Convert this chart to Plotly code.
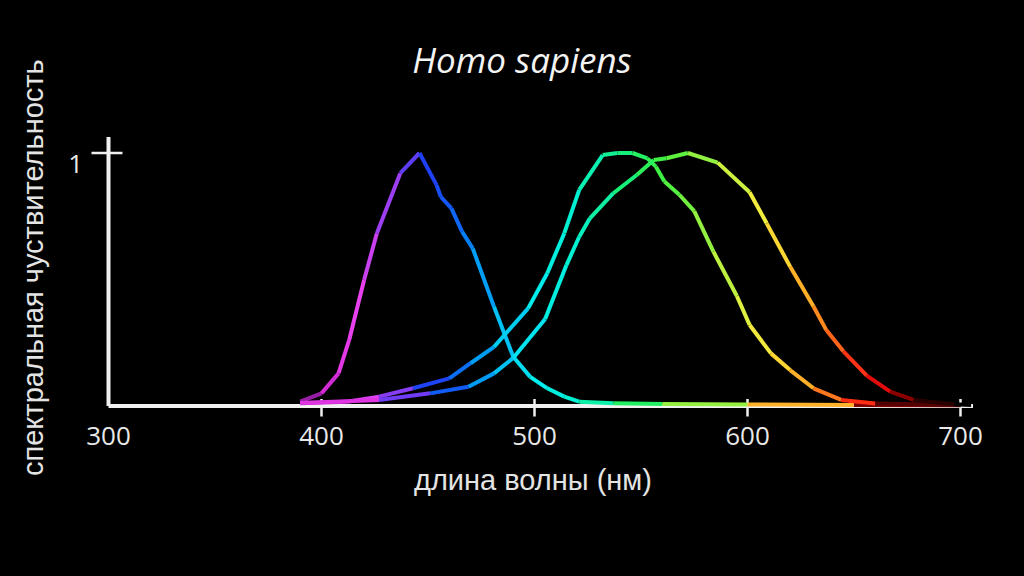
import plotly.graph_objects as go

# ---------------- data ----------------
S_WL = [390, 400, 408, 413, 420, 426, 437, 446, 454, 456, 461, 466, 471, 481, 490, 498, 506, 514, 521, 537, 560, 600, 650, 700]
S_VAL = [0.017, 0.050, 0.129, 0.261, 0.498, 0.683, 0.920, 1.0, 0.874, 0.827, 0.781, 0.689, 0.623, 0.392, 0.195, 0.115, 0.070, 0.037, 0.017, 0.011, 0.008, 0.006, 0.004, 0.003]

M_WL = [390, 412, 427, 443, 460, 470, 481, 497, 506, 514, 521, 532, 539, 546, 553, 557, 561, 568, 575, 584, 595, 601, 611, 620, 631, 644, 660, 700]
M_VAL = [0.011, 0.017, 0.037, 0.070, 0.109, 0.169, 0.234, 0.386, 0.525, 0.683, 0.854, 0.992, 1.0, 1.0, 0.979, 0.946, 0.887, 0.835, 0.770, 0.610, 0.435, 0.320, 0.208, 0.142, 0.070, 0.024, 0.010, 0.004]

L_WL = [390, 427, 451, 469, 481, 490, 505, 515, 521, 526, 537, 548, 556, 562, 572, 586, 601, 609, 620, 631, 637, 645, 656, 667, 678, 697, 705]
L_VAL = [0.012, 0.024, 0.050, 0.076, 0.129, 0.190, 0.344, 0.557, 0.669, 0.742, 0.841, 0.913, 0.972, 0.979, 1.0, 0.962, 0.845, 0.722, 0.551, 0.393, 0.300, 0.216, 0.120, 0.057, 0.024, 0.007, 0.004]

X_TICKS = [300, 400, 500, 600, 700]
X_TICK_TEXT = ["300", "400", "500", "600", "700"]
Y_TICKS = [1]
Y_TICK_TEXT = ["1"]

TITLE = "Homo sapiens"
X_TITLE = "длина волны (нм)"
Y_TITLE = "спектральная чуствительность"

# ---------------- style: spectral colour stops ----------------
COLOR_WL = [388, 398, 415, 428, 440, 450, 462, 472, 482, 492, 502, 518, 532, 545, 560, 575, 590, 603, 618, 633, 646, 658, 670, 685, 700]
COLOR_HEX = ['#3a1a55', '#c020c8', '#f040f0', '#b040f0', '#6a3cf5', '#2040f5', '#1060f5', '#0090f5',
             '#00b4f5', '#00d8f0', '#00eeee', '#00f0d0', '#10f0a0', '#18f070', '#40f040', '#80f040',
             '#c0f040', '#f0f040', '#ffd030', '#ff9020', '#ff4818', '#ff1010', '#a00000', '#300000', '#000000']


def hex2rgb(h):
    h = h.lstrip('#')
    return [int(h[i:i + 2], 16) for i in (0, 2, 4)]


def spectral(w):
    if w <= COLOR_WL[0]:
        return COLOR_HEX[0]
    if w >= COLOR_WL[-1]:
        return COLOR_HEX[-1]
    for i in range(len(COLOR_WL) - 1):
        a, b = COLOR_WL[i], COLOR_WL[i + 1]
        if a <= w <= b:
            t = (w - a) / (b - a)
            c0, c1 = hex2rgb(COLOR_HEX[i]), hex2rgb(COLOR_HEX[i + 1])
            c = [round(c0[k] + (c1[k] - c0[k]) * t) for k in range(3)]
            return 'rgb({},{},{})'.format(*c)
    return COLOR_HEX[-1]


# ---------------- geometry (pixel layout) ----------------
W, H = 1024, 576
PX_PER_NM = 2.13
PX_PER_UNIT = 253.0
X0_PX, Y0_PX = 108.5, 406.0          # pixel position of (300, 0)
PLOT_L, PLOT_R, PLOT_T, PLOT_B = 88, 990, 130, 418

x_range = [300 + (PLOT_L - X0_PX) / PX_PER_NM, 300 + (PLOT_R - X0_PX) / PX_PER_NM]
y_range = [(Y0_PX - PLOT_B) / PX_PER_UNIT, (Y0_PX - PLOT_T) / PX_PER_UNIT]

X_AXIS_END = 300 + (973 - X0_PX) / PX_PER_NM
Y_AXIS_END = (Y0_PX - 137) / PX_PER_UNIT
AXIS_COLOR = '#f0f0f0'

fig = go.Figure()

# axes drawn as lines
fig.add_trace(go.Scatter(x=[300, X_AXIS_END], y=[0, 0], mode='lines',
                         line=dict(color=AXIS_COLOR, width=4), hoverinfo='skip'))
fig.add_trace(go.Scatter(x=[300, 300], y=[0, Y_AXIS_END], mode='lines',
                         line=dict(color=AXIS_COLOR, width=4), hoverinfo='skip'))
# crossing tick marks
for t in X_TICKS[1:]:
    fig.add_trace(go.Scatter(x=[t, t], y=[-10.5 / PX_PER_UNIT, 7 / PX_PER_UNIT], mode='lines',
                             line=dict(color=AXIS_COLOR, width=2.5), hoverinfo='skip'))
for t in Y_TICKS:
    fig.add_trace(go.Scatter(x=[300 - 17 / PX_PER_NM, 300 + 14 / PX_PER_NM], y=[t, t], mode='lines',
                             line=dict(color=AXIS_COLOR, width=2.5), hoverinfo='skip'))

# spectral-coloured curves, one short segment per pair of points
for wl, val in ((S_WL, S_VAL), (M_WL, M_VAL), (L_WL, L_VAL)):
    for i in range(len(wl) - 1):
        col = spectral((wl[i] + wl[i + 1]) / 2)
        fig.add_trace(go.Scatter(x=wl[i:i + 2], y=val[i:i + 2], mode='lines',
                                 line=dict(color=col, width=4), hoverinfo='skip'))

fig.update_layout(
    width=W, height=H,
    paper_bgcolor='black', plot_bgcolor='black',
    margin=dict(l=PLOT_L, r=W - PLOT_R, t=PLOT_T, b=H - PLOT_B, pad=0),
    showlegend=False,
    title=dict(text=TITLE, xref='container', yref='container',
               x=522 / W, y=1 - 61 / H, xanchor='center', yanchor='middle',
               font=dict(family='Open Sans', size=35, color='#f4f4f4', style='italic')),
    xaxis=dict(range=x_range, showgrid=False, zeroline=False, showline=False,
               tickmode='array', tickvals=X_TICKS, ticktext=X_TICK_TEXT, ticks='',
               ticklabelstandoff=0,
               tickfont=dict(family='Open Sans', size=26, color='#e8e8e8')),
    yaxis=dict(range=y_range, showgrid=False, zeroline=False, showline=False,
               tickmode='array', tickvals=Y_TICKS, ticktext=Y_TICK_TEXT, ticks='',
               ticklabelstandoff=4, ticklabelshift=11,
               tickfont=dict(family='Open Sans', size=26, color='#e8e8e8')),
    annotations=[
        dict(text=X_TITLE, xref='paper', yref='paper',
             x=(533 - PLOT_L) / (PLOT_R - PLOT_L), y=(PLOT_B - 480) / (PLOT_B - PLOT_T),
             xanchor='center', yanchor='middle', showarrow=False,
             font=dict(family='Liberation Sans', size=29, color='#e4e4e4')),
        dict(text=Y_TITLE, xref='paper', yref='paper', textangle=-90,
             x=(33 - PLOT_L) / (PLOT_R - PLOT_L), y=(PLOT_B - 268) / (PLOT_B - PLOT_T),
             xanchor='center', yanchor='middle', showarrow=False,
             font=dict(family='Liberation Sans', size=29, color='#e4e4e4')),
    ],
)

fig.write_html("out.html", config={'displayModeBar': False},
               post_script="document.body.style.margin='0';document.body.style.background='black';")
